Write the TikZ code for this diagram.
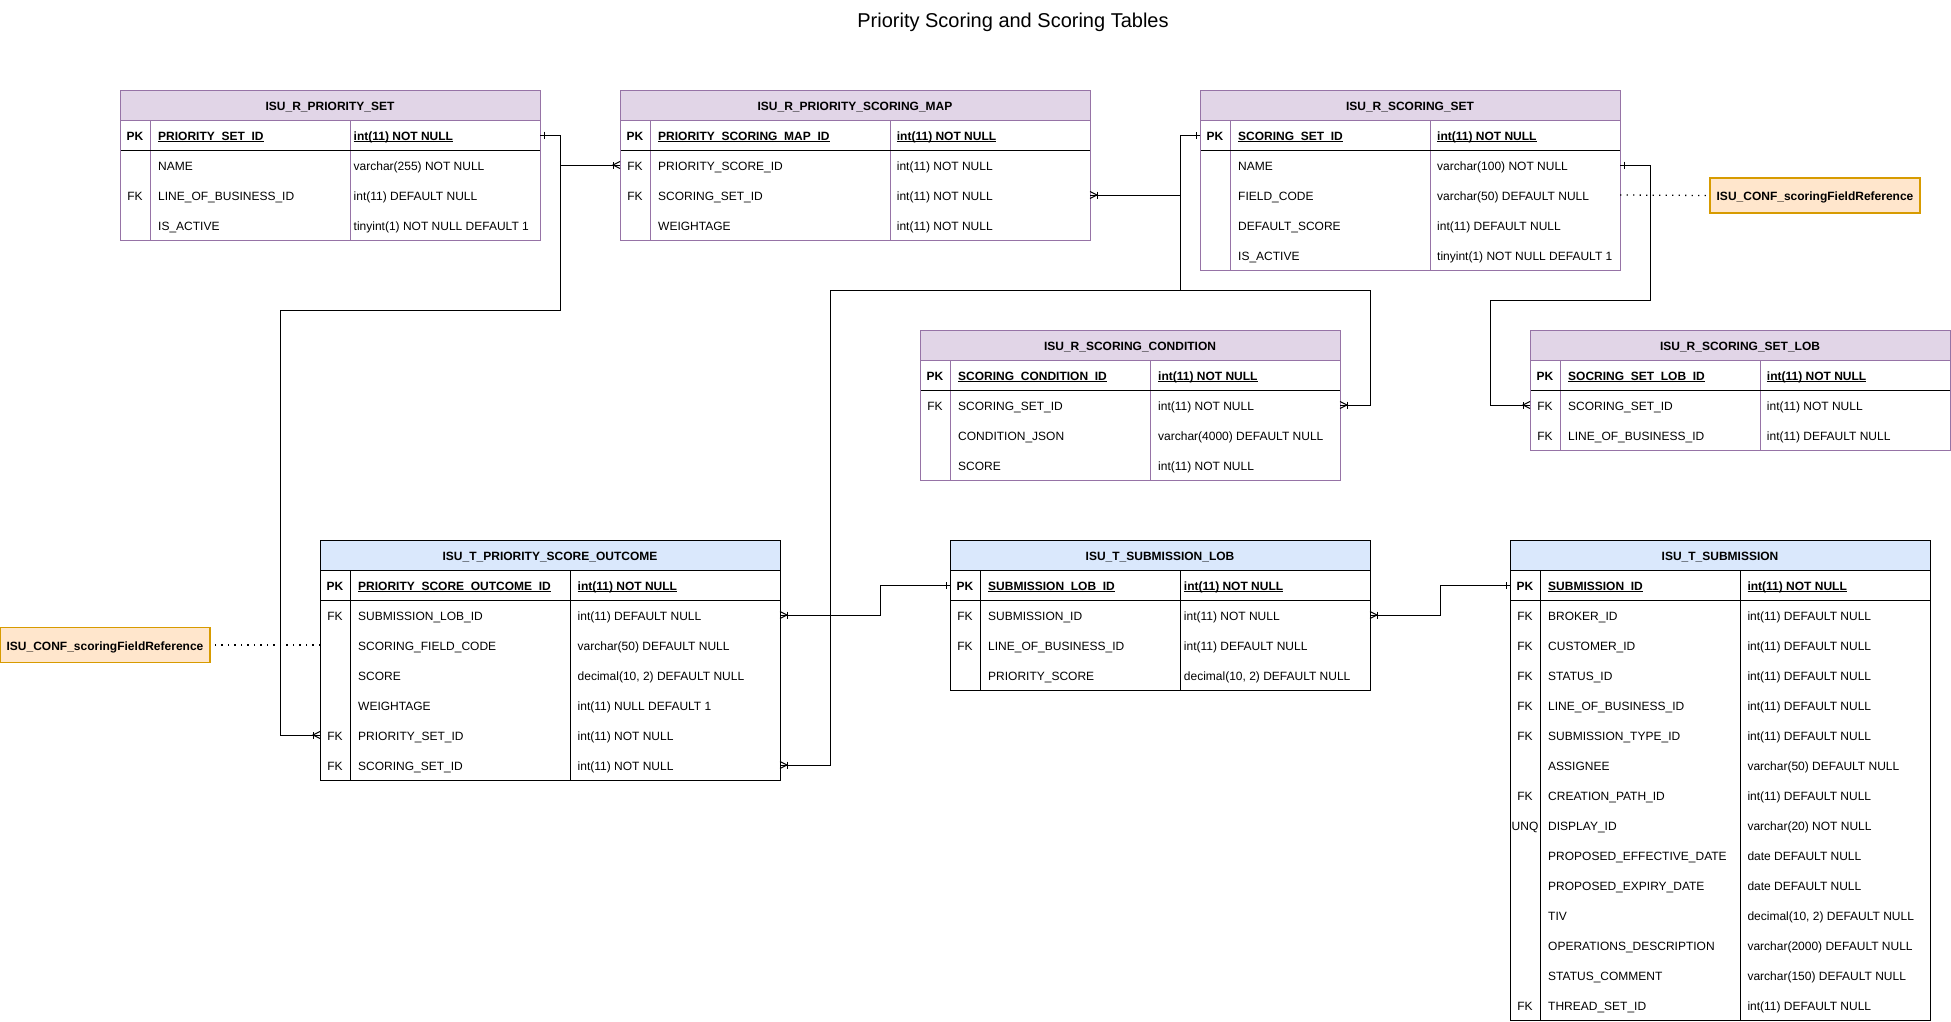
\documentclass[tikz,border=0pt]{standalone}
\usepackage{fontspec}
\setmainfont{Liberation Sans}
\usetikzlibrary{calc}
\definecolor{plinec}{HTML}{9673A6}
\definecolor{pfillc}{HTML}{E1D5E7}
\definecolor{bfillc}{HTML}{DAE8FC}
\definecolor{ofillc}{HTML}{FFE6CC}
\definecolor{olinec}{HTML}{D79B00}
\newcommand\myul[1]{\setbox0=\hbox{#1}\rlap{\rule[-1.8pt]{\wd0}{0.9pt}}\box0}
\tikzset{
 cell/.style={inner sep=0pt, text height=10.6pt, text depth=0pt, font=\fontsize{12}{14}\selectfont},
 celltxt/.style={cell, anchor=west},
 keytxt/.style={cell, anchor=center},
 hdrtxt/.style={cell, anchor=center, font=\fontsize{12}{14}\selectfont\bfseries},
 plinest/.style={draw=plinec, line width=1pt},
 blinest/.style={draw=black, line width=1pt},
 pheadst/.style={fill=pfillc},
 bheadst/.style={fill=bfillc},
 conn/.style={draw=black, line width=1pt},
 dotline/.style={draw=black, line width=1.3pt, dash pattern=on 1.3pt off 5.2pt},
 confbox/.style={draw=olinec, fill=ofillc, line width=1.2pt, minimum width=210pt, minimum height=35pt, inner sep=0pt, text height=10.6pt, text depth=0pt, font=\fontsize{12}{14}\selectfont\bfseries},
 onemark/.pic={\draw[line width=1pt] (4,-3.5) -- (4,3.5);},
 manymark/.pic={\draw[line width=1pt] (0,-3.5) -- (7,0) -- (0,3.5); \draw[line width=1pt] (7,-3.5) -- (7,3.5);},
}
% #1 id, #2 x, #3 y, #4 w2, #5 w3, #6 nrows, #7 title, #8 style prefix, #9 type pad
\newcommand\ertable[9]{%
 \pgfmathsetmacro\tw{30+#4+#5}%
 \pgfmathsetmacro\th{30*(#6+1)}%
 \fill[#8headst] (#2,#3) rectangle ++(\tw,30);
 \draw[#8linest] (#2,#3+30) -- ++(\tw,0);
 \draw[#8linest] (#2+30,#3+30) -- ++(0,\th-30);
 \draw[#8linest] (#2+30+#4,#3+30) -- ++(0,\th-30);
 \draw[blinest] (#2,#3+60) -- ++(\tw,0);
 \node[#8linest, minimum width=\tw pt, minimum height=\th pt, anchor=north west, inner sep=0pt, outer sep=0pt] (#1) at (#2,#3) {};
 \node[hdrtxt] (#1-title) at (#2+\tw/2,#3+15) {#7};
 \coordinate (#1-k) at (#2+15,#3+45);
 \coordinate (#1-n) at (#2+38,#3+45);
 \coordinate (#1-t) at (#2+30+#4+#9,#3+45);
}
\newcommand\erpk[4]{%
 \node[keytxt, font=\fontsize{12}{14}\selectfont\bfseries] (#1-k0) at (#1-k) {#2};
 \node[celltxt] (#1-n0) at (#1-n) {\textbf{\myul{#3}}};
 \node[celltxt] (#1-t0) at (#1-t) {\textbf{\myul{#4}}};
}
\newcommand\errow[5]{%
 \node[keytxt] (#1-k#2) at ([yshift=-#2*30pt]#1-k) {#3};
 \node[celltxt] (#1-n#2) at ([yshift=-#2*30pt]#1-n) {#4};
 \node[celltxt] (#1-t#2) at ([yshift=-#2*30pt]#1-t) {#5};
}
\begin{document}
\begin{tikzpicture}[x=1pt,y=-1pt]
\useasboundingbox (0,0) rectangle (1951,1021);
\node[anchor=base, inner sep=0pt, font=\fontsize{20}{22}\selectfont] (title) at (1013,27) {Priority Scoring and Scoring Tables};

% ISU_R_PRIORITY_SET
\ertable{t1}{120}{90}{200}{190}{4}{ISU\_R\_PRIORITY\_SET}{p}{3.5}
\erpk{t1}{PK}{PRIORITY\_SET\_ID}{int(11) NOT NULL}
\errow{t1}{1}{}{NAME}{varchar(255) NOT NULL}
\errow{t1}{2}{FK}{LINE\_OF\_BUSINESS\_ID}{int(11) DEFAULT NULL}
\errow{t1}{3}{}{IS\_ACTIVE}{tinyint(1) NOT NULL DEFAULT 1}

% ISU_R_PRIORITY_SCORING_MAP
\ertable{t2}{620}{90}{240}{200}{4}{ISU\_R\_PRIORITY\_SCORING\_MAP}{p}{6.7}
\erpk{t2}{PK}{PRIORITY\_SCORING\_MAP\_ID}{int(11) NOT NULL}
\errow{t2}{1}{FK}{PRIORITY\_SCORE\_ID}{int(11) NOT NULL}
\errow{t2}{2}{FK}{SCORING\_SET\_ID}{int(11) NOT NULL}
\errow{t2}{3}{}{WEIGHTAGE}{int(11) NOT NULL}

% ISU_R_SCORING_SET
\ertable{t3}{1200}{90}{200}{190}{5}{ISU\_R\_SCORING\_SET}{p}{7}
\erpk{t3}{PK}{SCORING\_SET\_ID}{int(11) NOT NULL}
\errow{t3}{1}{}{NAME}{varchar(100) NOT NULL}
\errow{t3}{2}{}{FIELD\_CODE}{varchar(50) DEFAULT NULL}
\errow{t3}{3}{}{DEFAULT\_SCORE}{int(11) DEFAULT NULL}
\errow{t3}{4}{}{IS\_ACTIVE}{tinyint(1) NOT NULL DEFAULT 1}

% ISU_R_SCORING_CONDITION
\ertable{t4}{920}{330}{200}{190}{4}{ISU\_R\_SCORING\_CONDITION}{p}{8}
\erpk{t4}{PK}{SCORING\_CONDITION\_ID}{int(11) NOT NULL}
\errow{t4}{1}{FK}{SCORING\_SET\_ID}{int(11) NOT NULL}
\errow{t4}{2}{}{CONDITION\_JSON}{varchar(4000) DEFAULT NULL}
\errow{t4}{3}{}{SCORE}{int(11) NOT NULL}

% ISU_R_SCORING_SET_LOB
\ertable{t5}{1530}{330}{200}{190}{3}{ISU\_R\_SCORING\_SET\_LOB}{p}{6.7}
\erpk{t5}{PK}{SOCRING\_SET\_LOB\_ID}{int(11) NOT NULL}
\errow{t5}{1}{FK}{SCORING\_SET\_ID}{int(11) NOT NULL}
\errow{t5}{2}{FK}{LINE\_OF\_BUSINESS\_ID}{int(11) DEFAULT NULL}

% ISU_T_PRIORITY_SCORE_OUTCOME
\ertable{t6}{320}{540}{220}{210}{7}{ISU\_T\_PRIORITY\_SCORE\_OUTCOME}{b}{7.5}
\erpk{t6}{PK}{PRIORITY\_SCORE\_OUTCOME\_ID}{int(11) NOT NULL}
\errow{t6}{1}{FK}{SUBMISSION\_LOB\_ID}{int(11) DEFAULT NULL}
\errow{t6}{2}{}{SCORING\_FIELD\_CODE}{varchar(50) DEFAULT NULL}
\errow{t6}{3}{}{SCORE}{decimal(10, 2) DEFAULT NULL}
\errow{t6}{4}{}{WEIGHTAGE}{int(11) NULL DEFAULT 1}
\errow{t6}{5}{FK}{PRIORITY\_SET\_ID}{int(11) NOT NULL}
\errow{t6}{6}{FK}{SCORING\_SET\_ID}{int(11) NOT NULL}

% ISU_T_SUBMISSION_LOB
\ertable{t7}{950}{540}{200}{190}{4}{ISU\_T\_SUBMISSION\_LOB}{b}{3.7}
\erpk{t7}{PK}{SUBMISSION\_LOB\_ID}{int(11) NOT NULL}
\errow{t7}{1}{FK}{SUBMISSION\_ID}{int(11) NOT NULL}
\errow{t7}{2}{FK}{LINE\_OF\_BUSINESS\_ID}{int(11) DEFAULT NULL}
\errow{t7}{3}{}{PRIORITY\_SCORE}{decimal(10, 2) DEFAULT NULL}

% ISU_T_SUBMISSION
\ertable{t8}{1510}{540}{200}{190}{15}{ISU\_T\_SUBMISSION}{b}{7.3}
\erpk{t8}{PK}{SUBMISSION\_ID}{int(11) NOT NULL}
\errow{t8}{1}{FK}{BROKER\_ID}{int(11) DEFAULT NULL}
\errow{t8}{2}{FK}{CUSTOMER\_ID}{int(11) DEFAULT NULL}
\errow{t8}{3}{FK}{STATUS\_ID}{int(11) DEFAULT NULL}
\errow{t8}{4}{FK}{LINE\_OF\_BUSINESS\_ID}{int(11) DEFAULT NULL}
\errow{t8}{5}{FK}{SUBMISSION\_TYPE\_ID}{int(11) DEFAULT NULL}
\errow{t8}{6}{}{ASSIGNEE}{varchar(50) DEFAULT NULL}
\errow{t8}{7}{FK}{CREATION\_PATH\_ID}{int(11) DEFAULT NULL}
\errow{t8}{8}{UNQ}{DISPLAY\_ID}{varchar(20) NOT NULL}
\errow{t8}{9}{}{PROPOSED\_EFFECTIVE\_DATE}{date DEFAULT NULL}
\errow{t8}{10}{}{PROPOSED\_EXPIRY\_DATE}{date DEFAULT NULL}
\errow{t8}{11}{}{TIV}{decimal(10, 2) DEFAULT NULL}
\errow{t8}{12}{}{OPERATIONS\_DESCRIPTION}{varchar(2000) DEFAULT NULL}
\errow{t8}{13}{}{STATUS\_COMMENT}{varchar(150) DEFAULT NULL}
\errow{t8}{14}{FK}{THREAD\_SET\_ID}{int(11) DEFAULT NULL}

% config boxes
\node[confbox] (conf1) at (1815,195.5) {ISU\_CONF\_scoringFieldReference};
\node[confbox] (conf2) at (105,645) {ISU\_CONF\_scoringFieldReference};

% row anchors
\coordinate (t1pkR) at ([yshift=-45pt]t1.north east);
\coordinate (t2r1L) at ([yshift=-75pt]t2.north west);
\coordinate (t2r2R) at ([yshift=-105pt]t2.north east);
\coordinate (t3pkL) at ([yshift=-45pt]t3.north west);
\coordinate (t3r1R) at ([yshift=-75pt]t3.north east);
\coordinate (t3r2R) at ([yshift=-105pt]t3.north east);
\coordinate (t4r1R) at ([yshift=-75pt]t4.north east);
\coordinate (t5r1L) at ([yshift=-75pt]t5.north west);
\coordinate (t6r1R) at ([yshift=-75pt]t6.north east);
\coordinate (t6r2L) at ([yshift=-105pt]t6.north west);
\coordinate (t6r5L) at ([yshift=-195pt]t6.north west);
\coordinate (t6r6R) at ([yshift=-225pt]t6.north east);
\coordinate (t7pkL) at ([yshift=-45pt]t7.north west);
\coordinate (t7r1R) at ([yshift=-75pt]t7.north east);
\coordinate (t8pkL) at ([yshift=-45pt]t8.north west);
% bends
\coordinate (w1) at (280,310);
\coordinate (w2) at (830,290);
\coordinate (w3) at (1370,290);
\coordinate (w4) at (1490,300);

% connectors
\draw[conn] (t1pkR) -- ++(20,0) |- (t2r1L);
\draw[conn] (t1pkR) -- ++(20,0) |- (w1) |- (t6r5L);
\draw[conn] (t3pkL) -- ++(-20,0) |- (t2r2R);
\draw[conn] (t3pkL) -- ++(-20,0) |- (w2) |- (t6r6R);
\draw[conn] (t3pkL) -- ++(-20,0) |- (w3) |- (t4r1R);
\draw[conn] (t3r1R) -- ++(30,0) |- (w4) |- (t5r1L);
\draw[conn] (t7pkL) -- ++(-70,0) |- (t6r1R);
\draw[conn] (t8pkL) -- ++(-70,0) |- (t7r1R);
\draw[dotline] (t3r2R) -- (conf1.west);
\draw[dotline] (t6r2L) -- (conf2.east);

% end marks
\pic at (t1pkR) {onemark};
\pic[rotate=180] at (t2r1L) {manymark};
\pic[rotate=180] at (t6r5L) {manymark};
\pic[rotate=180] at (t3pkL) {onemark};
\pic at (t2r2R) {manymark};
\pic at (t6r6R) {manymark};
\pic at (t4r1R) {manymark};
\pic at (t3r1R) {onemark};
\pic[rotate=180] at (t5r1L) {manymark};
\pic[rotate=180] at (t7pkL) {onemark};
\pic at (t6r1R) {manymark};
\pic[rotate=180] at (t8pkL) {onemark};
\pic at (t7r1R) {manymark};
\end{tikzpicture}
\end{document}
